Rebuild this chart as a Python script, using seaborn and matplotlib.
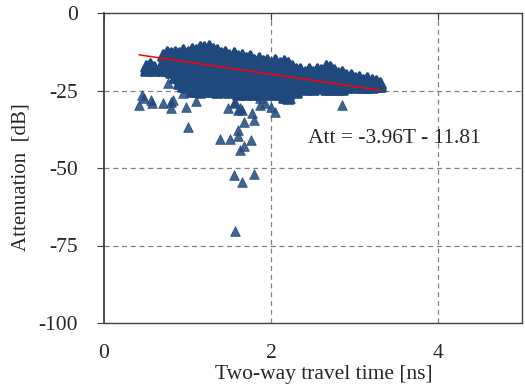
import numpy as np
import pandas as pd
import matplotlib
matplotlib.use("Agg")
import matplotlib.pyplot as plt
import seaborn as sns

# --- Daten ---
# dichte Punktwolke, spaltenweise (T-Werte)
band_t = (
    [0.5, 0.5] + [0.55] +
    [0.6, 0.6] +
    [0.7, 0.7, 0.7, 0.7] + [0.75, 0.75, 0.75, 0.75] +
    [0.8, 0.8, 0.8, 0.8] + [0.85, 0.85, 0.85, 0.85, 0.85] +
    [0.9, 0.9, 0.9, 0.9, 0.9, 0.9] + [0.95, 0.95, 0.95, 0.95, 0.95, 0.95, 0.95] +
    [1.0, 1.0, 1.0, 1.0, 1.0, 1.0, 1.0] + [1.05, 1.05, 1.05, 1.05, 1.05, 1.05, 1.05, 1.05] +
    [1.1, 1.1, 1.1, 1.1, 1.1, 1.1, 1.1, 1.1] + [1.15, 1.15, 1.15, 1.15, 1.15, 1.15, 1.15, 1.15] +
    [1.2, 1.2, 1.2, 1.2, 1.2, 1.2, 1.2, 1.2] + [1.25, 1.25, 1.25, 1.25, 1.25, 1.25, 1.25, 1.25] +
    [1.3, 1.3, 1.3, 1.3, 1.3, 1.3, 1.3, 1.3] + [1.35, 1.35, 1.35, 1.35, 1.35, 1.35, 1.35, 1.35] +
    [1.4, 1.4, 1.4, 1.4, 1.4, 1.4, 1.4] + [1.45, 1.45, 1.45, 1.45, 1.45, 1.45, 1.45] +
    [1.5, 1.5, 1.5, 1.5, 1.5, 1.5, 1.5] + [1.55, 1.55, 1.55, 1.55, 1.55, 1.55, 1.55] +
    [1.6, 1.6, 1.6, 1.6, 1.6, 1.6, 1.6] + [1.65, 1.65, 1.65, 1.65, 1.65, 1.65, 1.65] +
    [1.7, 1.7, 1.7, 1.7, 1.7, 1.7, 1.7] + [1.75, 1.75, 1.75, 1.75, 1.75, 1.75, 1.75] +
    [1.8, 1.8, 1.8, 1.8, 1.8, 1.8, 1.8] + [1.85, 1.85, 1.85, 1.85, 1.85, 1.85, 1.85] +
    [1.9, 1.9, 1.9, 1.9, 1.9, 1.9] + [1.95, 1.95, 1.95, 1.95, 1.95, 1.95] +
    [2.0, 2.0, 2.0, 2.0, 2.0, 2.0] + [2.05, 2.05, 2.05, 2.05, 2.05, 2.05] +
    [2.1, 2.1, 2.1, 2.1, 2.1, 2.1] + [2.15, 2.15, 2.15, 2.15, 2.15, 2.15, 2.15] +
    [2.2, 2.2, 2.2, 2.2, 2.2, 2.2, 2.2] + [2.25, 2.25, 2.25, 2.25, 2.25] +
    [2.3, 2.3, 2.3, 2.3, 2.3] + [2.35, 2.35, 2.35, 2.35] +
    [2.4, 2.4, 2.4, 2.4] + [2.45, 2.45, 2.45, 2.45] +
    [2.5, 2.5, 2.5, 2.5] + [2.55, 2.55, 2.55, 2.55] +
    [2.6, 2.6, 2.6, 2.6] + [2.65, 2.65, 2.65, 2.65, 2.65] +
    [2.7, 2.7, 2.7, 2.7, 2.7] + [2.75, 2.75, 2.75, 2.75] +
    [2.8, 2.8, 2.8, 2.8] + [2.85, 2.85, 2.85, 2.85] +
    [2.9, 2.9, 2.9] + [2.95, 2.95, 2.95] +
    [3.0, 3.0, 3.0] + [3.05, 3.05, 3.05] +
    [3.1, 3.1, 3.1] + [3.15, 3.15, 3.15] +
    [3.2, 3.2, 3.2] + [3.25, 3.25] +
    [3.3, 3.3]
)
# zugehoerige Daempfung [dB]
band_att = (
    [-17, -18.5] + [-16.5] +
    [-17.5, -18.5] +
    [-13.5, -15.5, -17.5, -18.5] + [-12.5, -14.5, -16.5, -18.5] +
    [-13, -15, -17, -19] + [-12.5, -14.5, -16.5, -18.5, -20.5] +
    [-13, -15, -17, -19, -21, -22.5] + [-12, -14, -16, -18, -20, -22, -23.5] +
    [-12.5, -14.5, -16.5, -18.5, -20.5, -22.5, -24] + [-11.5, -13.5, -15.5, -17.5, -19.5, -21.5, -23.5, -25] +
    [-12, -14, -16, -18, -20, -22, -24, -25] + [-11, -13, -15, -17, -19, -21, -23, -25] +
    [-11, -13, -15, -17, -19, -21, -23, -25] + [-10.5, -12.5, -14.5, -16.5, -18.5, -20.5, -22.5, -24.5] +
    [-11.5, -13.5, -15.5, -17.5, -19.5, -21.5, -23.5, -25] + [-12, -14, -16, -18, -20, -22, -24, -25.5] +
    [-13, -15, -17, -19, -21, -23, -25] + [-12.5, -14.5, -16.5, -18.5, -20.5, -22.5, -24.5] +
    [-13.5, -15.5, -17.5, -19.5, -21.5, -23.5, -25.5] + [-13, -15, -17, -19, -21, -23, -25] +
    [-14, -16, -18, -20, -22, -24, -26] + [-13.5, -15.5, -17.5, -19.5, -21.5, -23.5, -25.5] +
    [-14.5, -16.5, -18.5, -20.5, -22.5, -24.5, -26] + [-14, -16, -18, -20, -22, -24, -25.5] +
    [-15, -17, -19, -21, -23, -25, -26] + [-14.5, -16.5, -18.5, -20.5, -22.5, -24.5, -26] +
    [-15.5, -17.5, -19.5, -21.5, -23.5, -25.5] + [-15, -17, -19, -21, -23, -25] +
    [-16, -18, -20, -22, -24, -26] + [-15, -17, -19, -21, -23, -25] +
    [-16, -18, -20, -22, -24, -26] + [-15.5, -17, -19, -21, -23, -25, -27] +
    [-16, -18, -20, -22, -24, -26, -27.5] + [-17, -19, -21, -23, -25] +
    [-18, -20, -22, -24, -25.5] + [-18, -20, -22, -24] +
    [-19, -21, -23, -24.5] + [-18, -20, -22, -24] +
    [-19, -21, -23, -24.5] + [-18, -20, -22, -24] +
    [-18.5, -20.5, -22.5, -24] + [-17, -19, -21, -23, -24.5] +
    [-17.5, -19.5, -21.5, -23.5, -24.5] + [-18.5, -20.5, -22.5, -24] +
    [-19.5, -21.5, -23.5, -24.5] + [-19, -21, -23, -24.5] +
    [-20, -22, -24] + [-20, -22, -23.5] +
    [-21, -23, -24] + [-20.5, -22, -23.5] +
    [-21.5, -23, -24] + [-21, -22.5, -24] +
    [-21.5, -23, -24] + [-22, -23.5] +
    [-22.5, -23.5]
)

# einzelne Ausreisser unterhalb der Wolke
out_t = [0.42, 0.46, 0.48, 0.56, 0.58, 0.71, 0.77, 0.80, 0.82, 0.80, 0.94,
         0.98, 1.00, 1.10, 1.15, 1.25, 1.48, 1.55, 1.57, 1.60, 1.65, 1.63,
         1.77, 1.79, 1.67, 1.60, 1.60, 1.39, 1.51, 1.76, 1.67, 1.63, 1.56,
         1.65, 1.79, 1.57, 1.87, 1.87, 1.93, 2.00, 2.05, 2.23, 2.85]
out_att = [-29.7, -26.5, -27.5, -28, -29, -29, -22.6, -28.7, -28, -30.6, -25.8,
           -30.3, -36.8, -28.5, -25.8, -23.5, -30.6, -29, -28.7, -31.3, -31.3, -30.6,
           -32.3, -34.5, -35.2, -37.7, -39.7, -40.6, -40.6, -41, -42.9, -44.2, -52.3,
           -54.5, -51.9, -70.3, -29.7, -27.4, -29, -30.3, -31.9, -27.4, -29.7]

# Regressionsgerade Att = -3.96T - 11.81
fit_t = [0.42, 3.30]
fit_att = [-13.5, -24.9]

x_ticks = [0, 2, 4]
y_ticks = [0, -25, -50, -75, -100]

# --- Plot ---
sns.set_style("white")
plt.rcParams['font.family'] = ['Liberation Serif', 'DejaVu Serif']
plt.rcParams['axes.unicode_minus'] = False

blue = '#1f497d'
fig = plt.figure(figsize=(5.25, 3.92), dpi=100)
ax = fig.add_axes([104 / 525, 1 - 323 / 392, 418 / 525, 310 / 392])

for y in [-25, -50, -75]:
    ax.axhline(y, color='#808080', lw=0.9, ls=(0, (4, 3)), zorder=0)
for x in [2, 4]:
    ax.axvline(x, color='#808080', lw=0.9, ls=(0, (4, 3)), zorder=0)

band = pd.DataFrame({'t': band_t, 'att': band_att})
outl = pd.DataFrame({'t': out_t, 'att': out_att})

sns.scatterplot(data=outl, x='t', y='att', marker='^', s=48, color=blue,
                alpha=0.85, edgecolor=blue, linewidth=0.6, ax=ax, zorder=2)
sns.scatterplot(data=band, x='t', y='att', marker='^', s=48, color=blue,
                edgecolor=blue, linewidth=2.2, ax=ax, zorder=3)
sns.lineplot(x=fit_t, y=fit_att, color='red', lw=1.1, ax=ax, zorder=4)

ax.set_xlim(0, 5)
ax.set_ylim(-100, 0)
ax.set_xticks(x_ticks)
ax.set_yticks(y_ticks)
ax.tick_params(axis='x', which='both', bottom=False, top=True, direction='in',
               length=5, labelsize=15.5, pad=15, color='#404040')
ax.tick_params(axis='y', left=True, direction='out', length=5, labelsize=15.5,
               pad=14, color='#404040')

for side in ['left', 'bottom', 'top', 'right']:
    ax.spines[side].set_color('#404040')
    ax.spines[side].set_linewidth(1.0)
ax.spines['left'].set_linewidth(1.3)

ax.set_xlabel('Two-way travel time [ns]', fontsize=15.5)
ax.xaxis.set_label_coords(0.526, -0.135)
ax.set_ylabel('Attenuation  [dB]', fontsize=15)
ax.yaxis.set_label_coords(-0.176, 0.47)

ax.text(3.47, -40.5, 'Att = -3.96T - 11.81', fontsize=15.5, ha='center', va='center')

fig.savefig('out.png', dpi=100)
